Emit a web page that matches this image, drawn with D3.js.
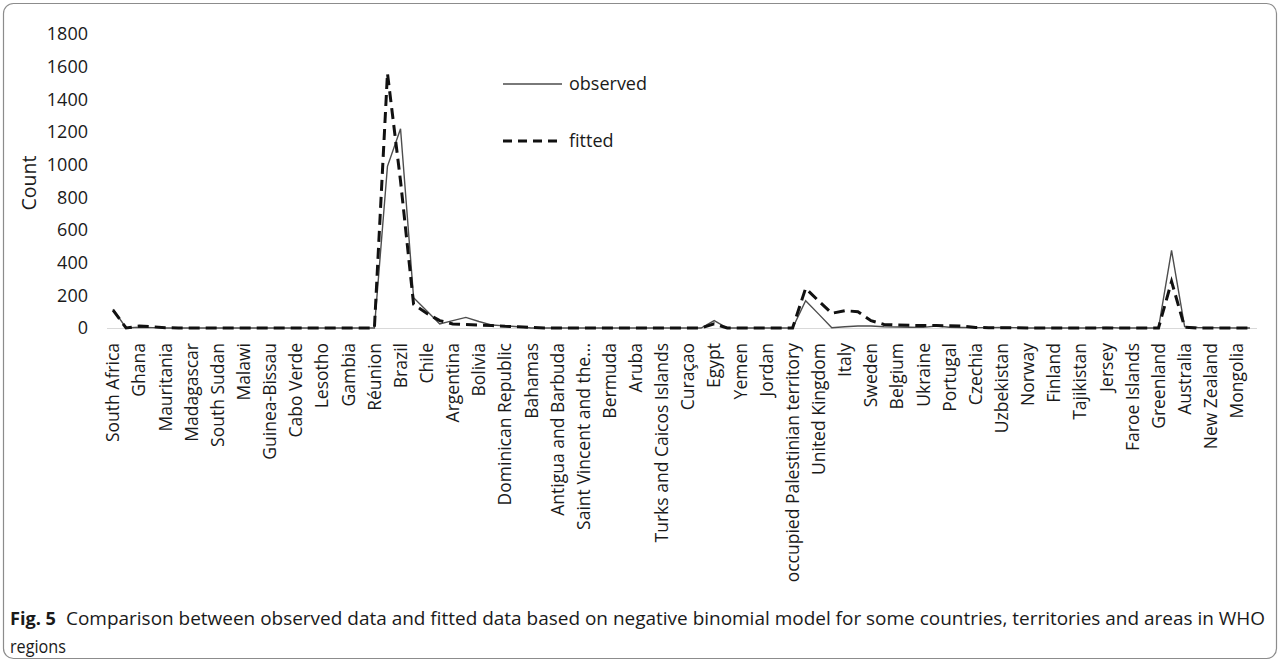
<!DOCTYPE html>
<html>
<head>
<meta charset="utf-8">
<script src="https://cdn.jsdelivr.net/npm/d3@7"></script>
<style>
  html, body { margin: 0; padding: 0; background: #fff; }
  svg { display: block; font-family: "Open Sans", "Noto Sans", sans-serif; }
</style>
</head>
<body>
<svg id="chart" width="1280" height="662"></svg>
<script>
// Countries, territories and areas, in plotting order (every other one is labelled on the axis)
const countries = [
  "South Africa", "Algeria", "Ghana", "Zambia", "Mauritania", "Zimbabwe", "Madagascar", "Mozambique",
  "South Sudan", "Eswatini", "Malawi", "Namibia", "Guinea-Bissau", "Angola", "Cabo Verde", "Burundi",
  "Lesotho", "Eritrea", "Gambia", "Seychelles", "Réunion", "United States of America", "Brazil", "Peru",
  "Chile", "Mexico", "Argentina", "Colombia", "Bolivia", "Ecuador", "Dominican Republic", "Panama",
  "Bahamas", "Barbados", "Antigua and Barbuda", "Grenada", "Saint Vincent and the Grenadines", "Saint Lucia", "Bermuda", "Dominica",
  "Aruba", "Saint Kitts and Nevis", "Turks and Caicos Islands", "Montserrat", "Curaçao", "Iran", "Egypt", "Iraq",
  "Yemen", "Lebanon", "Jordan", "Syrian Arab Republic", "occupied Palestinian territory", "Spain", "United Kingdom", "Germany",
  "Italy", "France", "Sweden", "Netherlands", "Belgium", "Poland", "Ukraine", "Ireland",
  "Portugal", "Austria", "Czechia", "Kazakhstan", "Uzbekistan", "Denmark", "Norway", "Iceland",
  "Finland", "Estonia", "Tajikistan", "Kyrgyzstan", "Jersey", "Guernsey", "Faroe Islands", "Gibraltar",
  "Greenland", "Japan", "Australia", "Singapore", "New Zealand", "Malaysia", "Mongolia", "Fiji"
];

// Observed counts
const observed = [
  115, 0, 5, 2, 0, 0, 0, 0,
  0, 0, 0, 0, 0, 0, 0, 0,
  0, 0, 0, 0, 0, 990, 1220, 185,
  105, 25, 45, 65, 40, 18, 13, 8,
  0, 0, 0, 0, 0, 0, 0, 0,
  0, 0, 0, 0, 0, 0, 45, 0,
  0, 0, 0, 0, 0, 167, 85, 2,
  8, 12, 12, 8, 6, 5, 4, 12,
  5, 3, 2, 2, 4, 2, 0, 0,
  0, 0, 1, 0, 4, 0, 0, 0,
  0, 475, 8, 3, 2, 1, 0, 0
];

// Fitted counts from the negative binomial model
const fitted = [
  110, 0, 12, 8, 2, 0, 0, 0,
  0, 0, 0, 0, 0, 0, 0, 0,
  0, 0, 0, 0, 0, 1560, 900, 145,
  90, 45, 25, 22, 18, 15, 10, 8,
  3, 0, 0, 0, 0, 0, 0, 0,
  0, 0, 0, 0, 0, 0, 25, 0,
  0, 0, 0, 0, 0, 243, 165, 90,
  106, 100, 45, 22, 18, 16, 15, 15,
  14, 12, 3, 2, 1, 1, 0, 0,
  0, 0, 0, 0, 0, 0, 0, 0,
  0, 285, 5, 0, 0, 0, 0, 0
];

const yTicks = [0, 200, 400, 600, 800, 1000, 1200, 1400, 1600, 1800];
const seriesNames = ["observed", "fitted"];
const captionLabel = "Fig. 5";
const captionText = "Comparison between observed data and fitted data based on negative binomial model for some countries, territories and areas in WHO";
const captionText2 = "regions";

const svg = d3.select("#chart");

// Figure frame
svg.append("rect")
  .attr("x", 3.5).attr("y", 3.5)
  .attr("width", 1273).attr("height", 655)
  .attr("rx", 10).attr("ry", 10)
  .attr("fill", "none")
  .attr("stroke", "#8c8c8c")
  .attr("stroke-width", 1.2);

const x = d3.scaleBand()
  .domain(countries)
  .range([106.5, 1256.5])
  .padding(0);

const y = d3.scaleLinear()
  .domain([0, 1800])
  .range([328, 34]);

const cx = d => x(d) + x.bandwidth() / 2;

// Horizontal axis with every other category labelled
const labelFmt = s => s.length > 30 ? s.slice(0, 21) + "..." : s;
const xAxis = svg.append("g")
  .attr("transform", `translate(0,${y(0)})`)
  .call(d3.axisBottom(x)
    .tickValues(countries.filter((d, i) => i % 2 === 0))
    .tickSize(0)
    .tickFormat(labelFmt));
xAxis.select(".domain").attr("stroke", "#d9d9d9").attr("stroke-width", 1.2);
xAxis.selectAll("text")
  .attr("transform", "rotate(-90)")
  .attr("x", -15)
  .attr("y", 0)
  .attr("dy", "0.36em")
  .style("text-anchor", "end")
  .style("font-size", "17.5px")
  .style("font-family", "'Open Sans', sans-serif")
  .attr("fill", "#1a1a1a");

// Vertical axis: labels only
const yAxis = svg.append("g")
  .attr("transform", "translate(105,0)")
  .call(d3.axisLeft(y).tickValues(yTicks).tickSize(0).tickPadding(17).tickFormat(d3.format("d")));
yAxis.select(".domain").remove();
yAxis.selectAll("text")
  .style("font-size", "18px")
  .style("font-family", "'Open Sans', sans-serif")
  .attr("fill", "#1a1a1a");

svg.append("text")
  .attr("transform", "translate(36,183) rotate(-90)")
  .attr("text-anchor", "middle")
  .style("font-size", "19.5px")
  .attr("fill", "#1a1a1a")
  .text("Count");

// Series lines
const line = d3.line()
  .x((d, i) => cx(countries[i]))
  .y(d => y(d));

svg.append("path")
  .datum(observed)
  .attr("fill", "none")
  .attr("stroke", "#4d4d4d")
  .attr("stroke-width", 1.4)
  .attr("stroke-linejoin", "miter")
  .attr("d", line);

svg.append("path")
  .datum(fitted)
  .attr("fill", "none")
  .attr("stroke", "#111")
  .attr("stroke-width", 3)
  .attr("stroke-dasharray", "11,6")
  .attr("d", line);

// Legend
const legend = svg.append("g");
legend.append("line")
  .attr("x1", 503).attr("x2", 562).attr("y1", 84).attr("y2", 84)
  .attr("stroke", "#4d4d4d").attr("stroke-width", 1.4);
legend.append("text")
  .attr("x", 569).attr("y", 84).attr("dy", "0.35em")
  .style("font-size", "18px").attr("fill", "#1a1a1a")
  .text(seriesNames[0]);
legend.append("line")
  .attr("x1", 503).attr("x2", 562).attr("y1", 141).attr("y2", 141)
  .attr("stroke", "#111").attr("stroke-width", 3)
  .attr("stroke-dasharray", "9,6");
legend.append("text")
  .attr("x", 569).attr("y", 141).attr("dy", "0.35em")
  .style("font-size", "18px").attr("fill", "#1a1a1a")
  .text(seriesNames[1]);

// Caption
svg.append("text")
  .attr("x", 10).attr("y", 625)
  .style("font-size", "18px").style("font-weight", "bold")
  .attr("fill", "#1a1a1a")
  .attr("textLength", 46).attr("lengthAdjust", "spacingAndGlyphs")
  .text(captionLabel);
svg.append("text")
  .attr("x", 66).attr("y", 625)
  .style("font-size", "18px")
  .attr("fill", "#1a1a1a")
  .attr("textLength", 1199).attr("lengthAdjust", "spacingAndGlyphs")
  .text(captionText);
svg.append("text")
  .attr("x", 10).attr("y", 653)
  .style("font-size", "18px")
  .attr("fill", "#1a1a1a")
  .attr("textLength", 56).attr("lengthAdjust", "spacingAndGlyphs")
  .text(captionText2);
</script>
</body>
</html>
